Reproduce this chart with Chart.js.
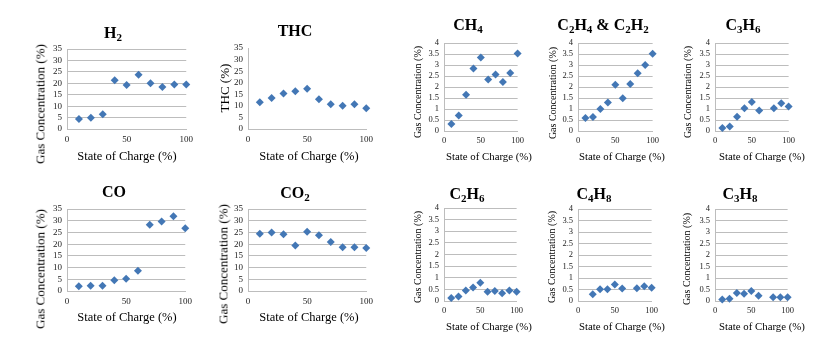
<!DOCTYPE html>
<html>
<head>
<meta charset="utf-8">
<script src="https://cdn.jsdelivr.net/npm/chart.js@4.4.1/dist/chart.umd.min.js"></script>
<style>
    body { margin: 0; background: #fff; }
    #wrap { position: relative; width: 831px; height: 346px; overflow: hidden; font-family: 'Liberation Serif', serif; }
    #wrap canvas { position: absolute; }
    .ttl { position: absolute; transform: translate(-50%, -50%); font-weight: bold; font-size: 16px; white-space: nowrap; color: #000; }
    .ttl sub { font-size: 11px; vertical-align: -3px; line-height: 0; }
    .ytl { position: absolute; transform: translate(-50%, -50%) rotate(-90deg); white-space: nowrap; color: #000; line-height: 1; }
    .xtl { position: absolute; transform: translate(-50%, -50%); white-space: nowrap; color: #000; line-height: 1; }
</style>
</head>
<body>
<div id="wrap"></div>
<script>
// State of charge (%) on every x axis
const soc = [10, 20, 30, 40, 50, 60, 70, 80, 90, 100];

// gas concentrations, null = no point in the figure
const h2   = [4.4, 4.9, 6.4, 21.3, 19.3, 23.7, 20.0, 18.4, 19.5, 19.5];
const thc  = [11.6, 13.4, 15.3, 16.3, 17.4, 12.9, 10.7, 10.0, 10.7, 9.0];
const ch4  = [0.32, 0.71, 1.65, 2.84, 3.34, 2.34, 2.57, 2.23, 2.64, 3.52];
const c2h4 = [0.59, 0.64, 1.00, 1.29, 2.10, 1.49, 2.14, 2.63, 3.00, 3.51];
const c3h6 = [0.14, 0.20, 0.65, 1.03, 1.32, 0.93, null, 1.03, 1.26, 1.11];
const co   = [2.0, 2.2, 2.2, 4.6, 5.2, 8.6, 28.3, 29.7, 31.9, 26.8];
const co2  = [24.4, 25.0, 24.2, 19.4, 25.3, 23.8, 20.9, 18.7, 18.7, 18.4];
const c2h6 = [0.13, 0.19, 0.45, 0.58, 0.79, 0.40, 0.43, 0.33, 0.45, 0.40];
const c4h8 = [null, 0.29, 0.51, 0.51, 0.72, 0.54, null, 0.55, 0.64, 0.58];
const c3h8 = [0.06, 0.10, 0.35, 0.32, 0.44, 0.23, null, 0.16, 0.16, 0.16];

// tick labels
const xTicks = [0, 50, 100];
const bigTicks = [0, 5, 10, 15, 20, 25, 30, 35];
const smallTicks = [0, 0.5, 1, 1.5, 2, 2.5, 3, 3.5, 4];

const GAS = 'Gas Concentration (%)';
const SOC = 'State of Charge (%)';

// plot = [left, right, top, bottom] of the plotting area; t*, y*, x* = title centres
const panels = [
    { title: 'H<sub>2</sub>', yTitle: GAS, values: h2, big: true, grid: true, plot: [67, 188, 49, 129], tx: 113, ty: 33, yx: 40, yy: 104, xx: 127, xy: 156 },
    { title: 'THC', yTitle: 'THC (%)', values: thc, big: true, grid: false, plot: [248, 368, 48, 129], tx: 295, ty: 31, yx: 224, yy: 88, xx: 309, xy: 156 },
    { title: 'CH<sub>4</sub>', yTitle: GAS, values: ch4, big: false, grid: true, plot: [444, 519, 43, 131], tx: 468, ty: 25, yx: 418, yy: 92, xx: 489, xy: 156 },
    { title: 'C<sub>2</sub>H<sub>4</sub> &amp; C<sub>2</sub>H<sub>2</sub>', yTitle: GAS, values: c2h4, big: false, grid: true, plot: [578, 654, 43, 131], tx: 603, ty: 25, yx: 553, yy: 93, xx: 622, xy: 156 },
    { title: 'C<sub>3</sub>H<sub>6</sub>', yTitle: GAS, values: c3h6, big: false, grid: true, plot: [715, 790, 43, 131], tx: 743, ty: 25, yx: 688, yy: 92, xx: 762, xy: 156 },
    { title: 'CO', yTitle: GAS, values: co, big: true, grid: true, plot: [67, 187, 209, 291], tx: 114, ty: 192, yx: 40, yy: 269, xx: 127, xy: 317 },
    { title: 'CO<sub>2</sub>', yTitle: GAS, values: co2, big: true, grid: true, plot: [248, 368, 209, 291], tx: 295, ty: 193, yx: 223, yy: 264, xx: 309, xy: 317 },
    { title: 'C<sub>2</sub>H<sub>6</sub>', yTitle: GAS, values: c2h6, big: false, grid: true, plot: [444, 518, 208, 301], tx: 467, ty: 194, yx: 418, yy: 257, xx: 489, xy: 326 },
    { title: 'C<sub>4</sub>H<sub>8</sub>', yTitle: GAS, values: c4h8, big: false, grid: true, plot: [578, 653, 209, 301], tx: 594, ty: 194, yx: 552, yy: 257, xx: 622, xy: 326 },
    { title: 'C<sub>3</sub>H<sub>8</sub>', yTitle: GAS, values: c3h8, big: false, grid: true, plot: [715, 789, 209, 301], tx: 740, ty: 194, yx: 687, yy: 259, xx: 762, xy: 326 },
];

const wrap = document.getElementById('wrap');
const FONT = "'Liberation Serif', serif";
const MARK = '#4377b5';
const GRID = '#bdbdbd';

function addText(cls, html, x, y, size) {
    const el = document.createElement('div');
    el.className = cls;
    el.innerHTML = html;
    el.style.left = x + 'px';
    el.style.top = y + 'px';
    if (size) el.style.fontSize = size + 'px';
    wrap.appendChild(el);
}

function makePanel(p) {
    const [x0, x1, y0, y1] = p.plot;
    const yFont = p.big ? 13 : 10;
    const xFont = p.big ? 12.5 : 10.8;
    const tickFont = p.big ? 9 : 8.5;
    const padTop = 12, padRight = 10;

    const left = x0 - 34;
    const top = y0 - padTop;
    const right = x1 + padRight;
    const bottom = y1 + 20;

    const canvas = document.createElement('canvas');
    canvas.width = right - left;
    canvas.height = bottom - top;
    canvas.style.left = left + 'px';
    canvas.style.top = top + 'px';
    wrap.appendChild(canvas);

    addText('ttl', p.title, p.tx, p.ty);
    addText('ytl', p.yTitle, p.yx, p.yy, yFont);
    addText('xtl', SOC, p.xx, p.xy, xFont);

    const points = soc
        .map((x, i) => ({ x, y: p.values[i] }))
        .filter((pt) => pt.y !== null);
    const yTicks = p.big ? bigTicks : smallTicks;

    new Chart(canvas.getContext('2d'), {
        type: 'scatter',
        data: {
            datasets: [{
                data: points,
                clip: false,
                pointStyle: 'rectRot',
                pointRadius: 4,
                pointHoverRadius: 4,
                backgroundColor: MARK,
                borderColor: MARK,
                borderWidth: 0,
            }],
        },
        options: {
            responsive: false,
            animation: false,
            events: [],
            layout: { padding: { top: padTop, right: padRight, left: 0, bottom: 0 } },
            plugins: { legend: { display: false }, tooltip: { enabled: false } },
            scales: {
                x: {
                    type: 'linear',
                    min: 0,
                    max: 100,
                    afterBuildTicks(scale) { scale.ticks = xTicks.map((v) => ({ value: v })); },
                    afterFit(scale) { scale.height = bottom - y1; },
                    grid: { display: false, drawTicks: false },
                    border: { display: true, color: GRID, width: 1 },
                    ticks: {
                        autoSkip: false, padding: 5, color: '#222', maxRotation: 0,
                        font: { family: FONT, size: tickFont },
                        callback: (v) => String(v),
                    },
                },
                y: {
                    min: 0,
                    max: yTicks[yTicks.length - 1],
                    afterBuildTicks(scale) { scale.ticks = yTicks.map((v) => ({ value: v })); },
                    afterFit(scale) { scale.width = x0 - left; },
                    ticks: {
                        autoSkip: false, padding: 5, color: '#222',
                        font: { family: FONT, size: tickFont },
                        callback: (v) => String(v),
                    },
                    grid: { display: p.grid, color: GRID, drawTicks: false, lineWidth: 1 },
                    border: { display: true, color: GRID, width: 1 },
                },
            },
        },
    });
}

panels.forEach(makePanel);
</script>
</body>
</html>
